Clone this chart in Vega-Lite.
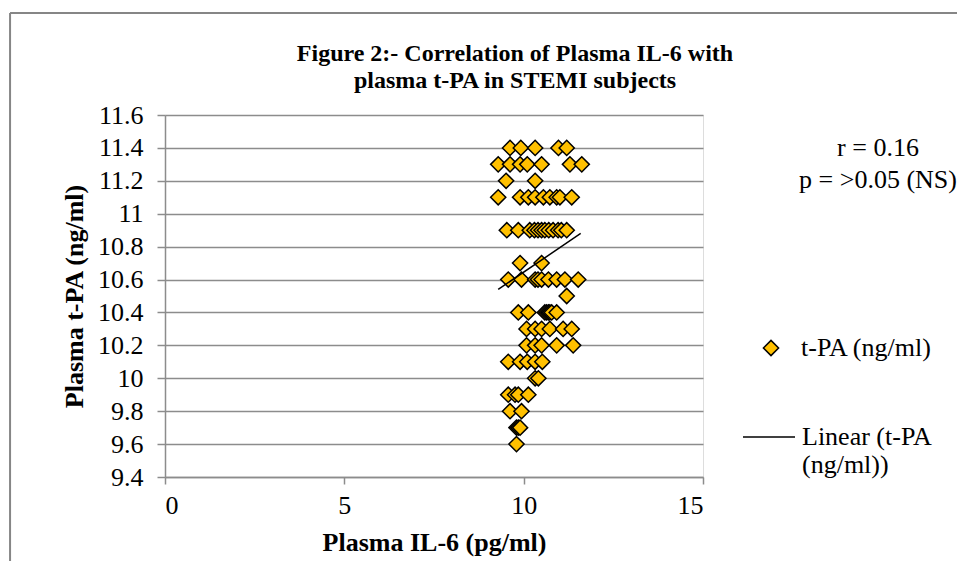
{
  "$schema": "https://vega.github.io/schema/vega-lite/v6.json",
  "width": 538,
  "height": 362,
  "autosize": {"type": "none"},
  "padding": {"left": 165, "top": 115, "right": 254, "bottom": 84},
  "background": "white",
  "title": {
    "text": ["Figure 2:- Correlation of Plasma IL-6 with", "plasma t-PA in STEMI subjects"],
    "font": "Liberation Serif",
    "fontSize": 24,
    "fontWeight": "bold",
    "color": "black",
    "lineHeight": 27,
    "anchor": "middle",
    "frame": "group",
    "dx": 81,
    "offset": -81
  },
  "datasets": {
    "pts": [
      {"il6": 9.62, "tpa": 11.4}, {"il6": 9.92, "tpa": 11.4}, {"il6": 10.32, "tpa": 11.4}, {"il6": 10.97, "tpa": 11.4}, {"il6": 11.2, "tpa": 11.4},
      {"il6": 9.29, "tpa": 11.3}, {"il6": 9.62, "tpa": 11.3}, {"il6": 9.9, "tpa": 11.3}, {"il6": 10.1, "tpa": 11.3}, {"il6": 10.5, "tpa": 11.3}, {"il6": 11.29, "tpa": 11.3}, {"il6": 11.62, "tpa": 11.3},
      {"il6": 9.51, "tpa": 11.2}, {"il6": 10.32, "tpa": 11.2},
      {"il6": 9.29, "tpa": 11.1}, {"il6": 9.9, "tpa": 11.1}, {"il6": 10.13, "tpa": 11.1}, {"il6": 10.32, "tpa": 11.1}, {"il6": 10.55, "tpa": 11.1}, {"il6": 10.73, "tpa": 11.1}, {"il6": 10.92, "tpa": 11.1}, {"il6": 11.01, "tpa": 11.1}, {"il6": 11.34, "tpa": 11.1},
      {"il6": 9.53, "tpa": 10.9}, {"il6": 9.85, "tpa": 10.9}, {"il6": 10.17, "tpa": 10.9}, {"il6": 10.3, "tpa": 10.9}, {"il6": 10.4, "tpa": 10.9}, {"il6": 10.5, "tpa": 10.9}, {"il6": 10.59, "tpa": 10.9}, {"il6": 10.7, "tpa": 10.9}, {"il6": 10.82, "tpa": 10.9}, {"il6": 10.96, "tpa": 10.9}, {"il6": 11.05, "tpa": 10.9}, {"il6": 11.2, "tpa": 10.9},
      {"il6": 9.9, "tpa": 10.7}, {"il6": 10.5, "tpa": 10.7},
      {"il6": 9.57, "tpa": 10.6}, {"il6": 9.94, "tpa": 10.6}, {"il6": 10.32, "tpa": 10.6}, {"il6": 10.4, "tpa": 10.6}, {"il6": 10.5, "tpa": 10.6}, {"il6": 10.69, "tpa": 10.6}, {"il6": 10.92, "tpa": 10.6}, {"il6": 11.15, "tpa": 10.6}, {"il6": 11.52, "tpa": 10.6},
      {"il6": 11.2, "tpa": 10.5},
      {"il6": 9.85, "tpa": 10.4}, {"il6": 10.13, "tpa": 10.4}, {"il6": 10.59, "tpa": 10.4}, {"il6": 10.64, "tpa": 10.4}, {"il6": 10.69, "tpa": 10.4}, {"il6": 10.73, "tpa": 10.4}, {"il6": 10.78, "tpa": 10.4}, {"il6": 10.92, "tpa": 10.4},
      {"il6": 10.08, "tpa": 10.3}, {"il6": 10.32, "tpa": 10.3}, {"il6": 10.5, "tpa": 10.3}, {"il6": 10.73, "tpa": 10.3}, {"il6": 11.1, "tpa": 10.3}, {"il6": 11.34, "tpa": 10.3},
      {"il6": 10.08, "tpa": 10.2}, {"il6": 10.32, "tpa": 10.2}, {"il6": 10.5, "tpa": 10.2}, {"il6": 10.92, "tpa": 10.2}, {"il6": 11.38, "tpa": 10.2},
      {"il6": 9.57, "tpa": 10.1}, {"il6": 9.9, "tpa": 10.1}, {"il6": 10.1, "tpa": 10.1}, {"il6": 10.32, "tpa": 10.1}, {"il6": 10.52, "tpa": 10.1},
      {"il6": 10.32, "tpa": 10.0}, {"il6": 10.41, "tpa": 10.0},
      {"il6": 9.57, "tpa": 9.9}, {"il6": 9.76, "tpa": 9.9}, {"il6": 9.85, "tpa": 9.9}, {"il6": 10.13, "tpa": 9.9},
      {"il6": 9.62, "tpa": 9.8}, {"il6": 9.94, "tpa": 9.8},
      {"il6": 9.8, "tpa": 9.7}, {"il6": 9.85, "tpa": 9.7}, {"il6": 9.9, "tpa": 9.7},
      {"il6": 9.8, "tpa": 9.6}
    ],
    "trend": [
      {"il6": 9.29, "tpa": 10.54},
      {"il6": 11.59, "tpa": 10.88}
    ],
    "note": [
      {"il6": 19.88, "tpa": 11.4, "t": "r = 0.16"},
      {"il6": 19.88, "tpa": 11.205, "t": "p = >0.05 (NS)"}
    ]
  },
  "encoding": {
    "x": {
      "field": "il6", "type": "quantitative",
      "scale": {"domain": [0, 15], "nice": false, "zero": false},
      "axis": {
        "title": "Plasma  IL-6 (pg/ml)",
        "values": [0, 5, 10, 15],
        "grid": false,
        "domainColor": "#8c8c8c", "domainWidth": 1.5,
        "tickColor": "#8c8c8c", "tickWidth": 1.5, "tickSize": 7,
        "labelFont": "Liberation Serif", "labelFontSize": 26, "labelColor": "black", "labelPadding": 8,
        "titleFont": "Liberation Serif", "titleFontSize": 26, "titleFontWeight": "bold", "titleColor": "black", "titlePadding": 11
      }
    },
    "y": {
      "field": "tpa", "type": "quantitative",
      "scale": {"domain": [9.4, 11.6], "nice": false, "zero": false},
      "axis": {
        "title": "Plasma t-PA (ng/ml)",
        "values": [9.4, 9.6, 9.8, 10, 10.2, 10.4, 10.6, 10.8, 11, 11.2, 11.4, 11.6],
        "format": "~g",
        "grid": true, "gridColor": "#8c8c8c", "gridWidth": 1.5,
        "domainColor": "#8c8c8c", "domainWidth": 1.5,
        "tickColor": "#8c8c8c", "tickWidth": 1.5, "tickSize": 8,
        "labelFont": "Liberation Serif", "labelFontSize": 26, "labelColor": "black", "labelPadding": 14,
        "titleFont": "Liberation Serif", "titleFontSize": 26, "titleFontWeight": "bold", "titleColor": "black", "titlePadding": 10
      }
    }
  },
  "layer": [
    {
      "data": {"values": [{"il6": -4.32, "tpa": 12.22, "il6b": 30, "tpab": 12.22}, {"il6": -4.32, "tpa": 12.22, "il6b": -4.32, "tpab": 8}]},
      "mark": {"type": "rule", "color": "#868686", "strokeWidth": 2, "clip": false},
      "encoding": {
        "x2": {"field": "il6b"},
        "y2": {"field": "tpab"}
      }
    },
    {
      "data": {"name": "pts"},
      "transform": [{"calculate": "'t-PA (ng/ml)'", "as": "s"}],
      "mark": {"type": "point", "shape": "diamond", "filled": true, "size": 230, "stroke": "black", "strokeWidth": 1.5, "opacity": 1},
      "encoding": {
        "fill": {
          "field": "s", "type": "nominal",
          "scale": {"range": ["#FFC000"]},
          "legend": {
            "orient": "none", "legendX": 593, "legendY": 220,
            "title": null, "padding": 0,
            "symbolType": "diamond", "symbolSize": 230, "symbolStrokeColor": "black", "symbolStrokeWidth": 1.5, "symbolOpacity": 1,
            "labelFont": "Liberation Serif", "labelFontSize": 26, "labelColor": "black", "labelOffset": 17
          }
        }
      }
    },
    {
      "data": {"name": "trend"},
      "transform": [{"calculate": "'Linear (t-PA (ng/ml))'", "as": "s2"}],
      "mark": {"type": "line", "strokeWidth": 1.5},
      "encoding": {
        "stroke": {
          "field": "s2", "type": "nominal",
          "scale": {"range": ["black"]},
          "legend": {
            "orient": "none", "legendX": 577, "legendY": 295,
            "title": null, "padding": 0,
            "symbolType": "stroke", "symbolSize": 2704, "symbolStrokeWidth": 1.5, "symbolStrokeColor": "black",
            "labelFont": "Liberation Serif", "labelFontSize": 26, "labelColor": "black", "labelOffset": 6,
            "labelLimit": 300,
            "labelExpr": "['Linear (t-PA', '(ng/ml))']"
          }
        }
      }
    },
    {
      "data": {"name": "note"},
      "mark": {"type": "text", "font": "Liberation Serif", "fontSize": 26, "color": "black", "align": "center", "baseline": "middle", "clip": false},
      "encoding": {"text": {"field": "t", "type": "nominal"}}
    }
  ]
}
